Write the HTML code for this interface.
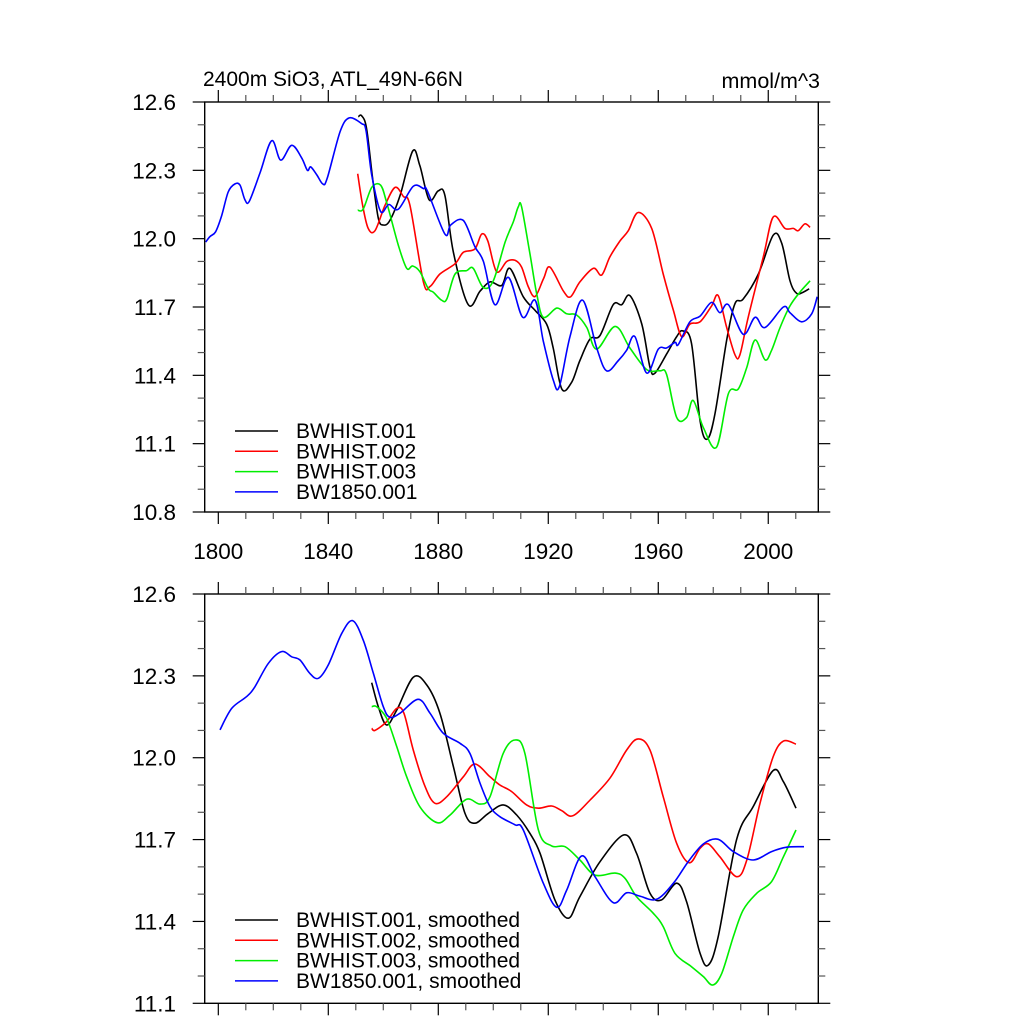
<!DOCTYPE html>
<html><head><meta charset="utf-8">
<style>
html,body{margin:0;padding:0;background:#fff;}
svg{display:block;font-family:"Liberation Sans",Arial,sans-serif;}
</style></head>
<body>
<svg id="chart" width="1024" height="1024" viewBox="0 0 1024 1024" xmlns="http://www.w3.org/2000/svg">
<text x="203" y="86" font-size="21">2400m SiO3, ATL_49N-66N</text>
<text x="820" y="88" font-size="21.5" text-anchor="end">mmol/m^3</text>
</svg>
<script>
// ---- Top panel data (raw) ----
const topYearsB1 = [1850.9,1852.1,1853.9,1856.1,1858.2,1860,1862.4,1866.1,1870.7,1873.3,1876.7,1880,1882.4,1885.5,1890.9,1895.2,1898.8,1903.1,1906,1910.9,1915.2,1919.4,1921.8,1924.9,1928.5,1931.5,1935.2,1938.8,1943.6,1946.7,1949.7,1954,1957,1958.8,1963.1,1966.7,1968.9,1972.1,1975.2,1977.8,1980.6,1984.9,1987.9,1990.9,1996.4,2001.8,2004.9,2007.9,2010.3,2012.7,2014.9];
const topValsB1 = [12.535,12.54,12.485,12.265,12.09,12.06,12.08,12.19,12.385,12.32,12.17,12.21,12.19,11.94,11.71,11.77,11.81,11.795,11.87,11.745,11.685,11.625,11.52,11.34,11.37,11.465,11.56,11.575,11.71,11.71,11.75,11.625,11.435,11.41,11.495,11.57,11.595,11.54,11.2,11.12,11.23,11.555,11.715,11.735,11.845,12.015,11.98,11.815,11.76,11.765,11.78];
const topYearsB2 = [1850.7,1852.5,1854.5,1857,1860.6,1864.3,1867.3,1869.7,1874.6,1877,1880.6,1886.1,1889.1,1893.3,1895.8,1898,1901.2,1904.9,1907.9,1910.3,1912.7,1915.2,1918.3,1920.6,1925.5,1928.1,1931.5,1936.4,1939.4,1942.4,1946.1,1949.1,1952.7,1957.6,1961.8,1965.5,1968.5,1971.5,1975.2,1979.4,1981.8,1984.9,1987.9,1989.7,1992.7,1998.2,2001.8,2006.1,2009.1,2010.9,2013.3,2015.2];
const topValsB2 = [12.285,12.145,12.045,12.035,12.145,12.225,12.185,12.145,11.81,11.79,11.845,11.89,11.94,11.955,12.02,11.99,11.855,11.9,11.905,11.875,11.79,11.746,11.825,11.875,11.77,11.745,11.81,11.87,11.84,11.92,11.99,12.035,12.115,12.045,11.845,11.685,11.57,11.625,11.635,11.705,11.75,11.61,11.49,11.49,11.655,11.92,12.095,12.045,12.045,12.035,12.065,12.05];
const topYearsB3 = [1850.7,1852.7,1855.8,1859,1861.2,1865.5,1868.5,1870.7,1873.3,1876.4,1878.2,1881.2,1883.1,1886.1,1890.3,1892.7,1896.4,1900,1904.3,1907.3,1909.1,1910.3,1913.3,1915.8,1918.2,1923.1,1926.7,1930.3,1934,1937.6,1944.3,1949.7,1955.8,1960.6,1963,1966.7,1970.3,1972.7,1976.4,1981.2,1985.5,1989.1,1992.2,1995.2,1998.8,2001.2,2004.3,2007.9,2011.5,2015.2];
const topValsB3 = [12.125,12.13,12.225,12.235,12.16,11.97,11.87,11.88,11.855,11.78,11.765,11.73,11.735,11.845,11.86,11.87,11.785,11.815,11.985,12.075,12.14,12.14,11.935,11.758,11.655,11.695,11.67,11.665,11.61,11.515,11.615,11.52,11.425,11.42,11.405,11.215,11.215,11.29,11.17,11.085,11.32,11.34,11.435,11.555,11.468,11.51,11.61,11.705,11.765,11.815];
const topYearsC = [1795.4,1797,1799,1801.2,1803.6,1806,1807.9,1809.7,1811.3,1815.2,1819.4,1822.7,1826.7,1830.3,1832.4,1833.6,1835.8,1838,1839.6,1844.3,1847.6,1852.1,1853.7,1855.8,1859,1862,1865.5,1870.9,1874.6,1876,1882.4,1884.5,1889.1,1893.3,1896.4,1900.6,1905.5,1910.7,1915.2,1918.2,1921.8,1924,1927.9,1932.5,1937.6,1941.2,1945.5,1948.5,1951.5,1955.8,1960,1963,1966.1,1967.3,1971.5,1975.2,1979.4,1982.4,1985.5,1990.9,1995.2,1998.8,2005.5,2007.9,2012.1,2015.8,2017.8];
const topValsC = [11.985,12.01,12.03,12.1,12.205,12.24,12.235,12.17,12.165,12.29,12.43,12.345,12.41,12.355,12.3,12.315,12.28,12.24,12.265,12.47,12.53,12.505,12.475,12.28,12.12,12.15,12.13,12.23,12.22,12.21,12.02,12.06,12.08,11.965,11.9,11.71,11.83,11.655,11.73,11.55,11.38,11.35,11.57,11.73,11.52,11.42,11.465,11.51,11.57,11.41,11.515,11.52,11.545,11.535,11.635,11.66,11.72,11.675,11.71,11.58,11.655,11.61,11.7,11.675,11.635,11.67,11.745];
// ---- Bottom panel data (smoothed) ----
const botYearsB1 = [1855.8,1858.2,1861.2,1864.9,1870.9,1875.8,1880.6,1885.5,1889.7,1893.3,1898.2,1903.6,1908.5,1913.3,1917,1922.4,1927.3,1931.5,1938.8,1947.5,1952.1,1957,1961.2,1966.7,1970.3,1975.2,1978.2,1981.8,1988.5,1994.5,2001.8,2005.5,2010.1];
const botValsB1 = [12.275,12.187,12.12,12.175,12.295,12.267,12.163,11.967,11.796,11.76,11.796,11.827,11.79,11.723,11.65,11.479,11.412,11.491,11.619,11.717,11.65,11.503,11.479,11.54,11.472,11.283,11.24,11.344,11.7,11.82,11.953,11.912,11.815];
const botYearsB2 = [1855.8,1857,1861.2,1864.9,1867.5,1870.9,1875.2,1878.8,1883.1,1889.1,1893.3,1898.8,1902.4,1906.7,1912.1,1916.4,1921.2,1924.9,1928.9,1935.2,1942.4,1948.5,1952.7,1957,1961.8,1966.7,1971.3,1975.2,1978.2,1982.4,1988.5,1992.2,1997,2001.8,2005.5,2010.1];
const botValsB2 = [12.108,12.1,12.132,12.181,12.163,12.028,11.894,11.833,11.857,11.93,11.977,11.93,11.9,11.876,11.827,11.815,11.823,11.806,11.787,11.845,11.925,12.028,12.069,12.028,11.857,11.686,11.615,11.668,11.684,11.637,11.564,11.625,11.833,12.004,12.061,12.05];
const botYearsB3 = [1855.8,1857.6,1861.2,1864.9,1868.5,1873.3,1879.6,1884.3,1890.3,1895.2,1898.8,1903.6,1907.9,1911.5,1916.4,1921.2,1926.1,1931.5,1937,1944.3,1947.9,1952.1,1958.2,1961.8,1966.1,1972.1,1976.4,1979.8,1983.1,1987.3,1990.9,1995.8,2001.2,2005.5,2010.1];
const botValsB3 = [12.187,12.187,12.145,12.04,11.93,11.82,11.762,11.79,11.848,11.83,11.857,12.016,12.065,12.016,11.735,11.677,11.674,11.625,11.57,11.577,11.558,11.491,11.43,11.381,11.283,11.234,11.198,11.167,11.21,11.344,11.442,11.503,11.546,11.637,11.735];
const botYearsC = [1800.6,1804.9,1810.3,1813.3,1818.2,1823,1826.7,1829.7,1833.3,1836.4,1840,1844.9,1848.9,1852.7,1856.4,1860,1862.4,1866.1,1872.7,1877,1881.8,1887.9,1891.5,1895.2,1898.8,1902.4,1907.9,1910.9,1918.2,1923.1,1926.7,1932.1,1937,1943.6,1948.5,1953.3,1959.4,1965.5,1970.9,1976.4,1981.8,1987.3,1994.5,2001.2,2006.7,2013];
const botValsC = [12.102,12.181,12.224,12.26,12.346,12.389,12.37,12.358,12.309,12.291,12.34,12.456,12.502,12.431,12.309,12.187,12.148,12.163,12.214,12.163,12.09,12.053,12.016,11.906,11.821,11.784,11.754,11.735,11.54,11.452,11.515,11.64,11.564,11.469,11.505,11.493,11.481,11.54,11.619,11.684,11.701,11.656,11.625,11.656,11.672,11.674];
const xTickLabels = ["1800","1840","1880","1920","1960","2000"];
const topYTickLabels = ["10.8","11.1","11.4","11.7","12.0","12.3","12.6"];
const botYTickLabels = ["11.1","11.4","11.7","12.0","12.3","12.6"];
const topLegend = ["BWHIST.001","BWHIST.002","BWHIST.003","BW1850.001"];
const botLegend = ["BWHIST.001, smoothed","BWHIST.002, smoothed","BWHIST.003, smoothed","BW1850.001, smoothed"];

const NS = "http://www.w3.org/2000/svg";
const svg = document.getElementById('chart');
const X0 = 1795.05, X1 = 2018.2, L = 204.7, R = 818.3;
function xs(yr){ return L + (yr - X0) / (X1 - X0) * (R - L); }
function mk(tag, attrs, parent){ const e=document.createElementNS(NS,tag); for(const k in attrs) e.setAttribute(k, attrs[k]); (parent||svg).appendChild(e); return e; }
const colors = ["#000000","#ff0000","#00ee00","#0000ff"];

function smoothPath(pts){
  let d = 'M' + pts[0][0].toFixed(1) + ',' + pts[0][1].toFixed(1);
  for (let i = 0; i < pts.length - 1; i++) {
    const p0 = pts[Math.max(0, i-1)], p1 = pts[i], p2 = pts[i+1], p3 = pts[Math.min(pts.length-1, i+2)];
    const t = 1/6;
    const c1x = p1[0] + (p2[0]-p0[0])*t, c1y = p1[1] + (p2[1]-p0[1])*t;
    const c2x = p2[0] - (p3[0]-p1[0])*t, c2y = p2[1] - (p3[1]-p1[1])*t;
    d += ' C' + c1x.toFixed(1) + ',' + c1y.toFixed(1) + ' ' + c2x.toFixed(1) + ',' + c2y.toFixed(1) + ' ' + p2[0].toFixed(1) + ',' + p2[1].toFixed(1);
  }
  return d;
}

function panel(name, top, bottom, vmin, vmax, ylabels, series, legend, legY, showXLabels){
  const g = mk('g', {});
  
  
  const ys = v => bottom - (v - vmin) / (vmax - vmin) * (bottom - top);
  series.forEach((s, i) => {
    const pts = s[0].map((yr, j) => [xs(yr), ys(s[1][j])]);
    const p = mk('path', {d: smoothPath(pts), fill: 'none', stroke: colors[i], 'stroke-width': 1.6, 'stroke-linejoin': 'round'}, g);
    
    
  });
  const fr = mk('rect', {x: L, y: top, width: R - L, height: bottom - top, fill: 'none', stroke: '#000', 'stroke-width': 1.4}, g);
  
  
  for (let yr = 1800; yr <= 2010; yr += 10) {
    const major = (yr - 1800) % 40 === 0;
    const len = major ? 12 : 7;
    const x = xs(yr);
    mk('line', {x1: x, x2: x, y1: bottom, y2: bottom + len, stroke: major ? '#000' : '#555', 'stroke-width': 1.2}, g);
    mk('line', {x1: x, x2: x, y1: top, y2: top - len, stroke: major ? '#000' : '#555', 'stroke-width': 1.2}, g);
  }
  if (showXLabels) {
    xTickLabels.forEach(lbl => {
      const t = mk('text', {x: xs(+lbl), y: bottom + 47, 'font-size': 22.5, 'text-anchor': 'middle'}, g);
      t.textContent = lbl;
      
      
    });
  }
  const nMinor = Math.round((vmax - vmin) / 0.1);
  for (let k = 0; k <= nMinor; k++) {
    const v = vmin + k * 0.1;
    const major = k % 3 === 0;
    const len = major ? 12 : 7;
    const y = ys(v);
    mk('line', {x1: L, x2: L - len, y1: y, y2: y, stroke: major ? '#000' : '#555', 'stroke-width': 1.2}, g);
    mk('line', {x1: R, x2: R + len, y1: y, y2: y, stroke: major ? '#000' : '#555', 'stroke-width': 1.2}, g);
  }
  ylabels.forEach(lbl => {
    const t = mk('text', {x: 176, y: ys(+lbl) + 8, 'font-size': 22.5, 'text-anchor': 'end'}, g);
    t.textContent = lbl;
    
    
  });
  legend.forEach((lbl, i) => {
    const y = legY + i * 20.3;
    const ln = mk('line', {x1: 235, x2: 278, y1: y, y2: y, stroke: colors[i], 'stroke-width': 1.5}, g);
    
    
    const t = mk('text', {x: 296, y: y + 7, 'font-size': 21}, g);
    t.textContent = lbl;
    
    
  });
}

panel('raw-panel', 102, 512, 10.8, 12.6, topYTickLabels,
  [[topYearsB1, topValsB1],[topYearsB2, topValsB2],[topYearsB3, topValsB3],[topYearsC, topValsC]],
  topLegend, 431, true);
panel('smoothed-panel', 594, 1003.3, 11.1, 12.6, botYTickLabels,
  [[botYearsB1, botValsB1],[botYearsB2, botValsB2],[botYearsB3, botValsB3],[botYearsC, botValsC]],
  botLegend, 920, false);
</script>
</body></html>
